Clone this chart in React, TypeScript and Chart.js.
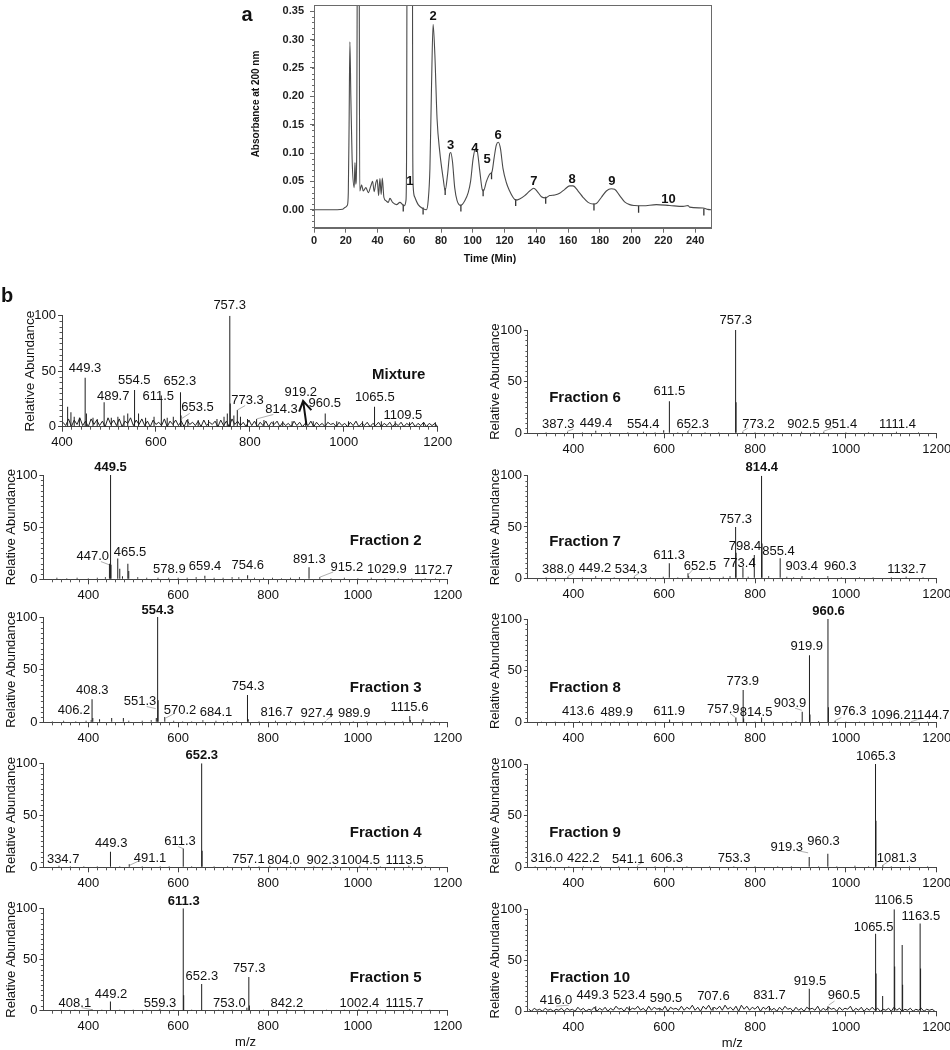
import { useEffect, useRef } from "react";
import { Chart, registerables } from "chart.js";
Chart.register(...registerables);

const NARROW = '"Liberation Sans Narrow", "Arial Narrow", "Liberation Sans", Arial, sans-serif';
const SANS = '"Liberation Sans", Arial, sans-serif';

// ---------- Chromatogram (a) ----------
const chromPoints: number[][] = [
  [0, 0], [10, 0], [18, 0.001], [19.5, 0.004], [21, 0.008], [21.6, 0.03], [22.1, 0.15], [22.6, 0.296],
  [23.2, 0.2], [24, 0.09], [25.3, 0.039], [25.8, 0.083], [26.3, 0.045], [26.9, 0.1], [27.3, 0.5], [27.7, 0.7],
  [28.4, 0.5], [28.8, 0.033], [30, 0.044], [31, 0.033], [32.7, 0.039], [34.2, 0.03], [35.8, 0.042], [36.9, 0.05],
  [37.9, 0.032], [39, 0.048], [39.8, 0.053], [40.7, 0.025], [41.5, 0.055], [42.3, 0.027], [43, 0.056], [44, 0.022],
  [45.3, 0.016], [46.8, 0.013], [47.8, 0.02], [49.5, 0.013], [52, 0.009], [54.1, 0.013], [55.8, 0.009], [56.8, 0.007],
  [57.9, 0.016], [58.3, 0.1], [58.8, 0.7], [61.8, 0.7], [62.2, 0.1], [62.5, 0.039], [63.5, 0.022], [65.6, 0.009],
  [68.7, 0.002], [70.8, 0], [71.9, 0.016], [73, 0.073], [74, 0.217], [75, 0.327], [76.1, 0.274], [77.5, 0.16],
  [79.2, 0.102], [81.3, 0.056], [82.6, 0.034], [84.1, 0.062], [85.5, 0.099], [86.1, 0.101], [87.2, 0.085], [88.6, 0.039],
  [90.1, 0.016], [92.5, 0.0075], [95, 0.016], [97.1, 0.03], [98.6, 0.05], [100.2, 0.09], [101.7, 0.108], [102.7, 0.105],
  [104.4, 0.068], [105.9, 0.036], [106.7, 0.033], [108.6, 0.05], [110.7, 0.063], [112.1, 0.067], [113.4, 0.091], [114.8, 0.114],
  [116.1, 0.119], [117.4, 0.108], [119, 0.073], [121.1, 0.048], [123.2, 0.033], [125.3, 0.022], [127, 0.017], [129.5, 0.019],
  [132.7, 0.025], [135.8, 0.033], [138.4, 0.038], [140.4, 0.033], [143.2, 0.023], [145.9, 0.021], [148.4, 0.025], [151.6, 0.026],
  [154.7, 0.029], [157.9, 0.036], [161, 0.042], [163.1, 0.042], [166.3, 0.033], [169.4, 0.022], [172.6, 0.013], [175.7, 0.01],
  [177.8, 0.011], [181, 0.022], [184.1, 0.033], [187.2, 0.037], [189.3, 0.036], [192.5, 0.025], [195.6, 0.014], [198.8, 0.009],
  [201.9, 0.0075], [207.2, 0.007], [215.6, 0.009], [224, 0.0075], [232.4, 0.006], [235.5, 0.0075], [236.5, 0.0046], [245, 0.003],
  [248, 0.0006], [250, 0],
];
const chromMarkers: number[][] = [
  [56.2, 0.003], [68.7, -0.002], [82.6, 0.032], [92.5, 0.003], [106.5, 0.03], [111.8, 0.06],
  [127, 0.0126], [145.9, 0.0166], [176.3, 0.005], [204.4, 0.001], [245.5, -0.004],
];
const chromPeakLabels: [string, number, number][] = [
  ["1", 60.4, 0.0505], ["2", 75, 0.34], ["3", 86, 0.1125], ["4", 101.3, 0.108], ["5", 109, 0.088],
  ["6", 116, 0.131], ["7", 138.4, 0.0505], ["8", 162.5, 0.053], ["9", 187.6, 0.0505], ["10", 223.3, 0.019],
];
const chromXTicks = [0, 20, 40, 60, 80, 100, 120, 140, 160, 180, 200, 220, 240];
const chromYTicks = [0, 0.05, 0.1, 0.15, 0.2, 0.25, 0.3, 0.35];

// ---------- Mass spectra (b) ----------
const mzTicks = [400, 600, 800, 1000, 1200];
const abundanceTicks = [0, 50, 100];
const noiseStep = 6;

const mixturePeaks: number[][] = [
  [412, 18], [419, 13], [426, 9], [437, 8], [449.3, 44], [452, 12], [466, 8], [475, 7], [489.7, 22], [505, 8],
  [519, 9], [532, 10], [540, 12], [554.5, 33], [563, 12], [578, 8], [596, 9], [611.5, 28], [624, 8], [637, 9],
  [652.3, 31], [653.5, 10], [668, 7], [690, 6], [712, 6], [730, 7], [745, 9], [752, 12], [757.3, 100], [758.3, 21],
  [766, 10], [773.3, 15], [780, 9], [795, 7], [814.3, 7], [830, 6], [850, 5], [870, 5], [890, 5], [919.2, 5],
  [935, 5], [960.5, 12], [985, 5], [1010, 5], [1040, 5], [1065.5, 18], [1080, 5], [1109.5, 5], [1140, 4], [1170, 4], [1195, 4],
];
const mixtureNoise: number[] = [
  4, 1, 7, 0, 6, 2, 8, 1, 5, 0, 7, 2, 6, 1,
  5, 0, 8, 2, 6, 1, 7, 0, 5, 3, 8, 1, 6, 2,
  7, 1, 5, 0, 6, 2, 4, 1, 7, 0, 5, 2, 6, 1,
  5, 0, 6, 2, 4, 1, 5, 0, 6, 1, 4, 2, 5, 0,
  6, 1, 5, 0, 7, 2, 5, 1, 4, 0, 6, 1, 5, 0,
  4, 1, 5, 0, 4, 2, 5, 0, 4, 1, 3, 0, 5, 1,
  4, 0, 3, 1, 5, 0, 4, 1, 3, 0, 4, 2, 3, 0,
  4, 1, 3, 0, 4, 1, 5, 0, 3, 1, 4, 0, 3, 1,
  4, 0, 3, 1, 4, 0, 3, 1, 4, 0, 3, 1, 4, 0,
  3, 1, 4, 0, 3, 1, 3, 0,
];
const mixtureLabels: any[] = [
  ["449.3", 449, 52.6], ["489.7", 509, 27.6], ["554.5", 553.8, 42], ["611.5", 605, 27], ["652.3", 651, 40.5],
  ["653.5", 688.7, 17], ["757.3", 757, 109.6], ["773.3", 795, 24], ["814.3", 867.4, 15.6], ["919.2", 908.5, 30.6],
  ["960.5", 959.6, 21], ["1065.5", 1066, 26.5], ["1109.5", 1126, 10],
];
const mixtureLeaders: number[][] = [[653.5, 7, 672, 12], [773.3, 15, 790, 19], [814.3, 7, 850, 11]];

const f2Peaks: number[][] = [
  [330, 1.5], [352, 1], [375, 1.5], [400, 1], [420, 1.5], [438, 2], [447, 15], [449.5, 100], [450.5, 14], [465.5, 20],
  [470, 10], [476, 3], [488, 15], [490, 8], [510, 2], [530, 1.5], [555, 1.5], [578.9, 1.5], [600, 1.5], [620, 1.5],
  [640, 2], [659.4, 3.5], [680, 1.5], [700, 1.5], [720, 2], [735, 2], [754.6, 4], [770, 1.5], [790, 1.5], [810, 1.5],
  [830, 1], [850, 1.5], [870, 2], [891.3, 11.5], [915.2, 2], [940, 1], [970, 1.5], [1000, 1], [1029.9, 1.5], [1060, 1],
  [1090, 1], [1120, 1], [1150, 1], [1172.7, 1],
];
const f2Labels: any[] = [
  ["449.5", 449.5, 107.4, 1], ["447.0", 409.8, 21.7], ["465.5", 492.9, 25.9], ["578.9", 580.4, 9.9], ["659.4", 659.9, 12],
  ["754.6", 755, 13], ["891.3", 892, 19.5], ["915.2", 975.5, 11], ["1029.9", 1064.6, 9], ["1172.7", 1168, 8.3],
];
const f2Leaders: number[][] = [[428, 17, 446, 14], [915.2, 2, 945, 7]];

const f3Peaks: number[][] = [
  [320, 1], [345, 1.5], [372, 1], [395, 1.5], [406.2, 2], [408.3, 22], [410, 4], [425, 3], [452, 4], [478, 4],
  [490, 1.5], [520, 1.5], [540, 2], [551.3, 4], [554.3, 100], [555.3, 21], [570.2, 5], [590, 1.5], [610, 1], [630, 1],
  [655, 2], [684.1, 1.5], [710, 1], [730, 1], [754.3, 26], [756, 3], [780, 1], [816.7, 1.5], [850, 1], [880, 1],
  [927.4, 1], [960, 1], [989.9, 1], [1020, 1], [1060, 1], [1100, 1], [1115.6, 6], [1117, 2], [1145, 3], [1170, 1],
];
const f3Labels: any[] = [
  ["554.3", 554.6, 106.6, 1], ["408.3", 408.9, 30.7], ["406.2", 368, 11], ["551.3", 515, 19.6], ["570.2", 604, 11],
  ["684.1", 684.4, 9.5], ["754.3", 755.7, 34.5], ["816.7", 819.6, 9.1], ["927.4", 908.7, 8.5], ["989.9", 991.8, 8.5],
  ["1115.6", 1115, 13.9],
];
const f3Leaders: number[][] = [[530, 15, 550, 13], [572, 4, 590, 8], [930, 2, 945, 7]];

const f4Peaks: number[][] = [
  [334.7, 1.5], [360, 1], [390, 1], [420, 1], [449.3, 15], [470, 1], [491.1, 3], [520, 1], [560, 1], [580, 1],
  [611.3, 18], [630, 1], [652.3, 100], [653.3, 16], [680, 1], [710, 1], [757.1, 1.5], [780, 1], [804, 1.5], [850, 1],
  [902.3, 1], [950, 1], [1004.5, 1.5], [1050, 1], [1113.5, 1.5], [1150, 1],
];
const f4Labels: any[] = [
  ["652.3", 652.6, 108, 1], ["611.3", 604, 24.6], ["449.3", 450.8, 23], ["334.7", 344, 7.7], ["491.1", 537.4, 8.7],
  ["757.1", 756.4, 8], ["804.0", 834.4, 7], ["902.3", 922, 7], ["1004.5", 1005, 7], ["1113.5", 1103.8, 7],
];
const f4Leaders: number[][] = [[492, 2, 512, 6], [600, 20, 611, 18]];

const f5Peaks: number[][] = [
  [340, 1], [370, 1], [408.1, 1.5], [430, 1], [449.2, 9], [470, 1], [500, 1], [530, 1], [559.3, 2], [590, 1],
  [611.3, 100], [612.3, 15], [630, 1], [652.3, 26], [690, 1], [720, 1], [753, 3], [757.3, 33], [758.5, 5], [790, 1],
  [842.2, 1.5], [880, 1], [930, 1], [970, 1], [1002.4, 1.5], [1050, 1], [1115.7, 1.5], [1160, 1],
];
const f5Labels: any[] = [
  ["611.3", 612.5, 106.4, 1], ["652.3", 652.7, 33], ["757.3", 758, 41], ["449.2", 450.6, 16.3], ["408.1", 370, 7.2],
  ["559.3", 559.7, 7.2], ["753.0", 714, 7.2], ["842.2", 842, 7.2], ["1002.4", 1003.6, 7.2], ["1115.7", 1103.8, 7.2],
];
const f5Leaders: number[][] = [[385, 3, 408, 1]];

const f6Peaks: number[][] = [
  [340, 1], [387.3, 1.5], [420, 1], [449.4, 2.5], [480, 1], [520, 1], [554.4, 1.5], [580, 1], [599, 3], [611.5, 31],
  [630, 1], [652.3, 2], [690, 1], [720, 1], [757.3, 100], [758.3, 30], [773.2, 1.5], [800, 1], [850, 1], [902.5, 1.5],
  [930, 1], [951.4, 1.5], [1000, 1], [1050, 1], [1111.4, 1.5], [1160, 1],
];
const f6Labels: any[] = [
  ["757.3", 757.7, 109.3], ["611.5", 611.5, 40.3], ["387.3", 367, 9], ["449.4", 450, 9.7], ["554.4", 554, 9],
  ["652.3", 663, 9], ["773.2", 807.5, 9], ["902.5", 906.6, 9], ["951.4", 989, 9], ["1111.4", 1113.7, 9],
];
const f6Leaders: number[][] = [[387, 2, 400, 4], [652, 2, 660, 5], [773, 2, 784, 5], [951, 2, 970, 5]];

const f7Peaks: number[][] = [
  [340, 1], [388, 1.5], [420, 1], [449.2, 2], [490, 1], [534.3, 1.5], [570, 1], [598, 1.5], [611.3, 14.6], [630, 1],
  [652.5, 5], [654, 2], [700, 1], [730, 1.5], [745, 2], [757.3, 50], [758.3, 25], [773.4, 10.7], [785, 1.5], [798.4, 22.7],
  [814.4, 100], [815.4, 34], [830, 2], [855.4, 19.5], [870, 1.5], [885, 1], [903.4, 2], [930, 1], [960.3, 2], [990, 1],
  [1030, 1], [1060, 1], [1100, 1], [1132.7, 1.5], [1170, 1],
];
const f7Labels: any[] = [
  ["814.4", 815, 108, 1], ["757.3", 757.7, 57.8], ["798.4", 778, 31.5], ["773.4", 765.6, 14.6], ["855.4", 851.6, 26.6],
  ["611.3", 610.8, 22], ["652.5", 679, 12], ["388.0", 367, 8.8], ["449.2", 447.8, 9.7], ["534.3", 527, 8.8],
  ["903.4", 903, 11.3], ["960.3", 987.5, 11.3], ["1132.7", 1134, 8.8],
];
const f7Leaders: number[][] = [[388, 2, 400, 5], [534, 2, 545, 5], [654, 4, 664, 9]];

const f8Peaks: number[][] = [
  [330, 1], [360, 1], [390, 1], [413.6, 1.5], [440, 1], [470, 1], [489.9, 1], [520, 1], [550, 1], [580, 1],
  [611.9, 3], [640, 1], [680, 1], [710, 1], [740, 1], [757.9, 5], [773.9, 31.5], [775, 4], [800, 1], [814.5, 5],
  [840, 1], [870, 1], [890, 1.5], [903.9, 10.6], [919.9, 65], [921, 8], [940, 1.5], [960.6, 100], [961.6, 15], [976.3, 2],
  [1000, 1], [1030, 1], [1060, 1], [1096.2, 1], [1120, 1], [1144.7, 1], [1180, 1],
];
const f8Labels: any[] = [
  ["960.6", 961.7, 107, 1], ["919.9", 914, 73.3], ["773.9", 773, 39.5], ["757.9", 730, 13], ["814.5", 802.4, 9.6],
  ["903.9", 877, 18.7], ["413.6", 411, 10.8], ["489.9", 495.6, 9.6], ["611.9", 610.8, 10.8], ["976.3", 1009.5, 10.8],
  ["1096.2", 1099, 6.8], ["1144.7", 1185.7, 6.8],
];
const f8Leaders: number[][] = [[745, 9, 757, 5], [888, 14, 903, 12], [976, 2, 990, 5], [1144, 1, 1165, 4]];

const f9Peaks: number[][] = [
  [316, 1], [350, 1], [390, 1], [422.2, 1], [460, 1], [500, 1], [541.1, 1], [580, 1], [606.3, 1], [650, 1],
  [700, 1], [753.3, 1], [800, 1], [850, 1], [880, 1], [919.3, 10], [940, 1], [960.3, 13], [980, 1], [1020, 1.5],
  [1050, 1], [1065.3, 100], [1066.3, 45], [1081.3, 2], [1100, 1], [1140, 1], [1180, 1],
];
const f9Labels: any[] = [
  ["1065.3", 1066, 107.8], ["919.3", 870, 19.4], ["960.3", 950.7, 24.8], ["316.0", 341.4, 8.6], ["422.2", 422, 8.6],
  ["541.1", 521, 8], ["606.3", 605.7, 8.6], ["753.3", 754, 8.6], ["1081.3", 1112, 8.6],
];
const f9Leaders: number[][] = [[895, 16, 917, 14], [541, 2, 550, 4], [1081, 2, 1092, 5]];

const f10Peaks: number[][] = [
  [449.3, 5], [523.4, 5], [590.5, 3], [707.6, 4], [831.7, 5], [919.5, 22], [960.5, 5], [1065.5, 76], [1066.5, 37],
  [1081, 15], [1106.5, 100], [1107.5, 44], [1124, 65], [1125, 26], [1163.5, 86], [1164.5, 42],
];
const f10Noise: number[] = [
  2, 0, 3, 1, 2, 0, 3, 1, 2, 0, 2, 1, 3, 0,
  3, 1, 2, 0, 4, 1, 3, 0, 2, 1, 4, 0, 3, 1,
  4, 0, 3, 1, 5, 2, 3, 0, 4, 1, 3, 2, 5, 1,
  3, 0, 5, 1, 4, 2, 3, 1, 5, 0, 4, 2, 3, 1,
  5, 1, 4, 2, 6, 1, 4, 0, 5, 2, 6, 1, 4, 2,
  5, 1, 6, 2, 4, 1, 5, 0, 6, 2, 5, 1, 4, 2,
  5, 0, 4, 2, 5, 1, 3, 0, 4, 1, 5, 2, 3, 0,
  4, 1, 3, 0, 4, 2, 3, 1, 5, 0, 3, 1, 4, 2,
  3, 0, 4, 1, 3, 2, 5, 0, 3, 1, 4, 0, 3, 1,
  4, 1, 3, 0, 2, 1, 3, 0, 4, 1, 3, 0, 2, 1,
  3, 0, 2, 1, 3, 0, 2, 1, 2, 0,
];
const f10Labels: any[] = [
  ["1106.5", 1105, 108.4], ["1163.5", 1165, 93.4], ["1065.5", 1061, 82.3], ["919.5", 921, 29], ["960.5", 996, 16],
  ["416.0", 362, 10.4], ["449.3", 442.7, 15.3], ["523.4", 523.4, 15.3], ["590.5", 604, 12.7], ["707.6", 708.4, 14.3],
  ["831.7", 831.7, 15.3],
];
const f10Leaders: number[][] = [[362, 5, 390, 6], [962, 6, 975, 10]];

// layout of the panels (pixel geometry of each plot area)
const panelLayout: any[] = [
  { name: "Mixture", col: 0, left: 62, right: 437.7, top: 315.7, bottom: 426.7, xmin: 400, peaks: mixturePeaks, labels: mixtureLabels, leaders: mixtureLeaders, noise: mixtureNoise, noiseStart: 402, title: [1117, 46.5], arrow: true, yTitleSize: 13.5 },
  { name: "Fraction 2", col: 0, left: 43.4, right: 447.7, top: 475, bottom: 579.3, xmin: 300, peaks: f2Peaks, labels: f2Labels, leaders: f2Leaders, title: [1062, 36.7] },
  { name: "Fraction 3", col: 0, left: 43.4, right: 447.7, top: 617, bottom: 722.3, xmin: 300, peaks: f3Peaks, labels: f3Labels, leaders: f3Leaders, title: [1062, 32.3] },
  { name: "Fraction 4", col: 0, left: 43.4, right: 447.7, top: 763.3, bottom: 867.3, xmin: 300, peaks: f4Peaks, labels: f4Labels, leaders: f4Leaders, title: [1062, 33.3] },
  { name: "Fraction 5", col: 0, left: 43.4, right: 447.7, top: 908.3, bottom: 1010.7, xmin: 300, peaks: f5Peaks, labels: f5Labels, leaders: f5Leaders, title: [1062, 31.6], mz: true },
  { name: "Fraction 6", col: 1, left: 527.9, right: 936.7, top: 330, bottom: 433.3, xmin: 300, peaks: f6Peaks, labels: f6Labels, leaders: f6Leaders, title: [425.8, 33.9] },
  { name: "Fraction 7", col: 1, left: 527.9, right: 936.7, top: 475.7, bottom: 578.3, xmin: 300, peaks: f7Peaks, labels: f7Labels, leaders: f7Leaders, title: [425.8, 35.6] },
  { name: "Fraction 8", col: 1, left: 527.9, right: 936.7, top: 619, bottom: 722.7, xmin: 300, peaks: f8Peaks, labels: f8Labels, leaders: f8Leaders, title: [425.8, 33.2] },
  { name: "Fraction 9", col: 1, left: 527.9, right: 936.7, top: 764, bottom: 867.3, xmin: 300, peaks: f9Peaks, labels: f9Labels, leaders: f9Leaders, title: [425.8, 33.5] },
  { name: "Fraction 10", col: 1, left: 527.9, right: 936.7, top: 909.3, bottom: 1011.3, xmin: 300, peaks: f10Peaks, labels: f10Labels, leaders: f10Leaders, noise: f10Noise, noiseStart: 302, title: [436.8, 32.4], mz: true },
];

function SpectrumPanel({ p }: { p: any }) {
  const ref = useRef<HTMLCanvasElement>(null);
  const canvasLeft = p.col === 0 ? 0 : 470;
  const canvasWidth = p.col === 0 ? 470 : 480;
  const canvasTop = Math.round(p.top - 34);
  const canvasHeight = Math.round(p.bottom - canvasTop + (p.mz ? 44 : 28));

  useEffect(() => {
    const YW = 30;
    const XH = 22;
    const padding = {
      left: p.left - canvasLeft - YW,
      right: canvasLeft + canvasWidth - p.right,
      top: p.top - canvasTop,
      bottom: canvasHeight - (p.bottom - canvasTop) - XH,
    };
    const datasets: any[] = [
      {
        type: "bar",
        data: p.peaks.map((d: number[]) => ({ x: d[0], y: d[1] })),
        backgroundColor: "#1e1e1e",
        barThickness: 1,
        grouped: false,
        inflateAmount: 0,
        borderWidth: 0,
        order: 1,
      },
    ];
    if (p.noise) {
      datasets.push({
        type: "line",
        data: p.noise.map((y: number, i: number) => ({ x: p.noiseStart + i * noiseStep, y })),
        borderColor: "#222",
        borderWidth: 1,
        pointRadius: 0,
        tension: 0,
        order: 2,
      });
    }
    const decor = {
      id: "decor",
      afterDraw(chart: any) {
        const ctx = chart.ctx;
        const xs = chart.scales.x;
        const ys = chart.scales.y;
        const a = chart.chartArea;
        ctx.save();
        ctx.strokeStyle = "#555";
        ctx.lineWidth = 1;
        ctx.beginPath();
        for (let v = 5; v < 100; v += 5) {
          if (v === 50) continue;
          const y = Math.round(ys.getPixelForValue(v)) + 0.5;
          ctx.moveTo(a.left - 2.5, y);
          ctx.lineTo(a.left, y);
        }
        for (let v = xs.min + 20; v < xs.max; v += 20) {
          if (v % 200 === 0) continue;
          const x = Math.round(xs.getPixelForValue(v)) + 0.5;
          ctx.moveTo(x, a.bottom);
          ctx.lineTo(x, a.bottom + 3);
        }
        ctx.stroke();

        if (p.leaders) {
          ctx.strokeStyle = "#9a9a9a";
          ctx.lineWidth = 0.8;
          ctx.beginPath();
          for (const l of p.leaders) {
            ctx.moveTo(xs.getPixelForValue(l[0]), ys.getPixelForValue(l[1]));
            ctx.lineTo(xs.getPixelForValue(l[2]), ys.getPixelForValue(l[3]));
          }
          ctx.stroke();
        }

        ctx.fillStyle = "#111";
        ctx.textAlign = "center";
        ctx.textBaseline = "middle";
        for (const l of p.labels) {
          ctx.font = (l[3] ? "bold " : "") + "13px " + NARROW;
          ctx.fillText(l[0], xs.getPixelForValue(l[1]), ys.getPixelForValue(l[2]));
        }
        ctx.font = "bold 15px " + SANS;
        ctx.fillText(p.name, xs.getPixelForValue(p.title[0]), ys.getPixelForValue(p.title[1]));

        if (p.arrow) {
          ctx.strokeStyle = "#111";
          ctx.lineWidth = 2;
          ctx.beginPath();
          ctx.moveTo(xs.getPixelForValue(920.6), ys.getPixelForValue(1.5));
          ctx.lineTo(xs.getPixelForValue(913.4), ys.getPixelForValue(23.2));
          ctx.moveTo(xs.getPixelForValue(905), ys.getPixelForValue(13.5));
          ctx.lineTo(xs.getPixelForValue(913.4), ys.getPixelForValue(23.2));
          ctx.lineTo(xs.getPixelForValue(931), ys.getPixelForValue(15));
          ctx.stroke();
        }
        if (p.mz) {
          ctx.font = "13px " + SANS;
          ctx.fillText("m/z", (a.left + a.right) / 2, a.bottom + 32);
        }
        if (p.name === "Mixture") {
          ctx.font = "bold 20px " + SANS;
          ctx.fillText("b", 7, 296 - canvasTop);
        }
        ctx.translate(a.left - 32, (a.top + a.bottom) / 2);
        ctx.rotate(-Math.PI / 2);
        ctx.font = (p.yTitleSize || 13) + "px " + SANS;
        ctx.fillText("Relative Abundance", 0, 0);
        ctx.restore();
      },
    };
    const chart = new Chart(ref.current as HTMLCanvasElement, {
      type: "bar",
      data: { datasets },
      options: {
        responsive: false,
        animation: false,
        devicePixelRatio: 1,
        layout: { padding },
        plugins: { legend: { display: false }, tooltip: { enabled: false } },
        scales: {
          x: {
            type: "linear",
            min: p.xmin,
            max: 1200,
            offset: false,
            grid: { display: true, drawOnChartArea: false, drawTicks: true, tickLength: 5, color: "#444", offset: false },
            border: { display: true, color: "#444", width: 1 },
            ticks: {
              font: { family: NARROW, size: 13 },
              color: "#111",
              padding: 3,
              maxRotation: 0,
              autoSkip: false,
              callback: (v: any) => String(v),
            },
            afterBuildTicks: (s: any) => {
              s.ticks = mzTicks.map((v) => ({ value: v }));
            },
            afterFit: (s: any) => {
              s.height = XH;
              s.paddingLeft = 0;
              s.paddingRight = 0;
            },
          } as any,
          y: {
            type: "linear",
            min: 0,
            max: 100,
            grid: { display: true, drawOnChartArea: false, drawTicks: true, tickLength: 4, color: "#444" },
            border: { display: true, color: "#444", width: 1 },
            ticks: { font: { family: NARROW, size: 13 }, color: "#111", padding: 2, callback: (v: any) => String(v) },
            afterBuildTicks: (s: any) => {
              s.ticks = abundanceTicks.map((v) => ({ value: v }));
            },
            afterFit: (s: any) => {
              s.width = YW;
              s.paddingTop = 0;
              s.paddingBottom = 0;
            },
          } as any,
        },
      } as any,
      plugins: [decor],
    } as any);
    return () => chart.destroy();
  }, []);

  return (
    <canvas
      ref={ref}
      width={canvasWidth}
      height={canvasHeight}
      style={{ position: "absolute", left: canvasLeft, top: canvasTop, width: canvasWidth, height: canvasHeight }}
    />
  );
}

function Chromatogram() {
  const ref = useRef<HTMLCanvasElement>(null);
  const CL = 230, CT = 0, CW = 500, CH = 270;
  useEffect(() => {
    const YW = 35, XH = 18;
    const area = { left: 314, right: 711, top: 0, bottom: 228.7 };
    const padding = {
      left: area.left - CL - YW,
      right: CL + CW - area.right,
      top: area.top - CT,
      bottom: CH - (area.bottom - CT) - XH,
    };
    const decor = {
      id: "chromDecor",
      afterDraw(chart: any) {
        const ctx = chart.ctx;
        const xs = chart.scales.x;
        const ys = chart.scales.y;
        const a = chart.chartArea;
        ctx.save();
        ctx.strokeStyle = "#6a6a6a";
        ctx.lineWidth = 1;
        ctx.strokeRect(Math.round(a.left) + 0.5, Math.round(a.top) + 0.5, Math.round(a.right - a.left), Math.round(a.bottom - a.top) - 1);
        ctx.beginPath();
        for (let v = -0.03; v <= 0.36; v += 0.01) {
          const y = Math.round(ys.getPixelForValue(v)) + 0.5;
          ctx.moveTo(a.left - 2, y);
          ctx.lineTo(a.left, y);
        }
        ctx.stroke();
        ctx.fillStyle = "#111";
        ctx.textAlign = "center";
        ctx.textBaseline = "middle";
        ctx.font = "bold 13px " + SANS;
        for (const l of chromPeakLabels) {
          ctx.fillText(l[0], xs.getPixelForValue(l[1]), ys.getPixelForValue(l[2]));
        }
        ctx.font = "bold 10.5px " + SANS;
        ctx.fillText("Time (Min)", 490 - CL, 259);
        ctx.font = "bold 20px " + SANS;
        ctx.fillText("a", 247 - CL, 15);
        ctx.translate(256.7 - CL, 104);
        ctx.rotate(-Math.PI / 2);
        ctx.font = "bold 10px " + SANS;
        ctx.fillText("Absorbance at 200 nm", 0, 0);
        ctx.restore();
      },
    };
    const chart = new Chart(ref.current as HTMLCanvasElement, {
      type: "line",
      data: {
        datasets: [
          {
            data: chromPoints.map((d) => ({ x: d[0], y: d[1] })),
            borderColor: "#4a4a4a",
            borderWidth: 1.1,
            pointRadius: 0,
            cubicInterpolationMode: "monotone",
          },
          {
            data: chromMarkers.map((d) => ({ x: d[0], y: d[1] })),
            showLine: false,
            pointStyle: "line",
            rotation: 90,
            pointRadius: 3.5,
            borderColor: "#333",
            borderWidth: 1.3,
          },
        ],
      },
      options: {
        responsive: false,
        animation: false,
        devicePixelRatio: 1,
        layout: { padding },
        plugins: { legend: { display: false }, tooltip: { enabled: false } },
        scales: {
          x: {
            type: "linear",
            min: 0,
            max: 250,
            grid: { display: true, drawOnChartArea: false, tickLength: 4, color: "#6a6a6a" },
            border: { display: true, color: "#6a6a6a" },
            ticks: { font: { family: SANS, size: 11, weight: "bold" }, color: "#222", padding: 2, maxRotation: 0, autoSkip: false, callback: (v: any) => String(v) },
            afterBuildTicks: (s: any) => {
              s.ticks = chromXTicks.map((v) => ({ value: v }));
            },
            afterFit: (s: any) => {
              s.height = XH;
              s.paddingLeft = 0;
              s.paddingRight = 0;
            },
          } as any,
          y: {
            type: "linear",
            min: -0.0334,
            max: 0.3603,
            grid: { display: true, drawOnChartArea: false, tickLength: 4, color: "#6a6a6a" },
            border: { display: true, color: "#6a6a6a" },
            ticks: {
              font: { family: SANS, size: 11, weight: "bold" },
              color: "#222",
              padding: 6,
              callback: (v: any) => Number(v).toFixed(2),
            },
            afterBuildTicks: (s: any) => {
              s.ticks = chromYTicks.map((v) => ({ value: v }));
            },
            afterFit: (s: any) => {
              s.width = YW;
              s.paddingTop = 0;
              s.paddingBottom = 0;
            },
          } as any,
        },
      } as any,
      plugins: [decor],
    } as any);
    return () => chart.destroy();
  }, []);
  return (
    <canvas ref={ref} width={CW} height={CH} style={{ position: "absolute", left: CL, top: CT, width: CW, height: CH }} />
  );
}

export default function App() {
  return (
    <div style={{ position: "absolute", left: 0, top: 0, width: 950, height: 1050, background: "#fff", overflow: "hidden" }}>
      <Chromatogram />
      {panelLayout.map((p) => (
        <SpectrumPanel key={p.name} p={p} />
      ))}
    </div>
  );
}
